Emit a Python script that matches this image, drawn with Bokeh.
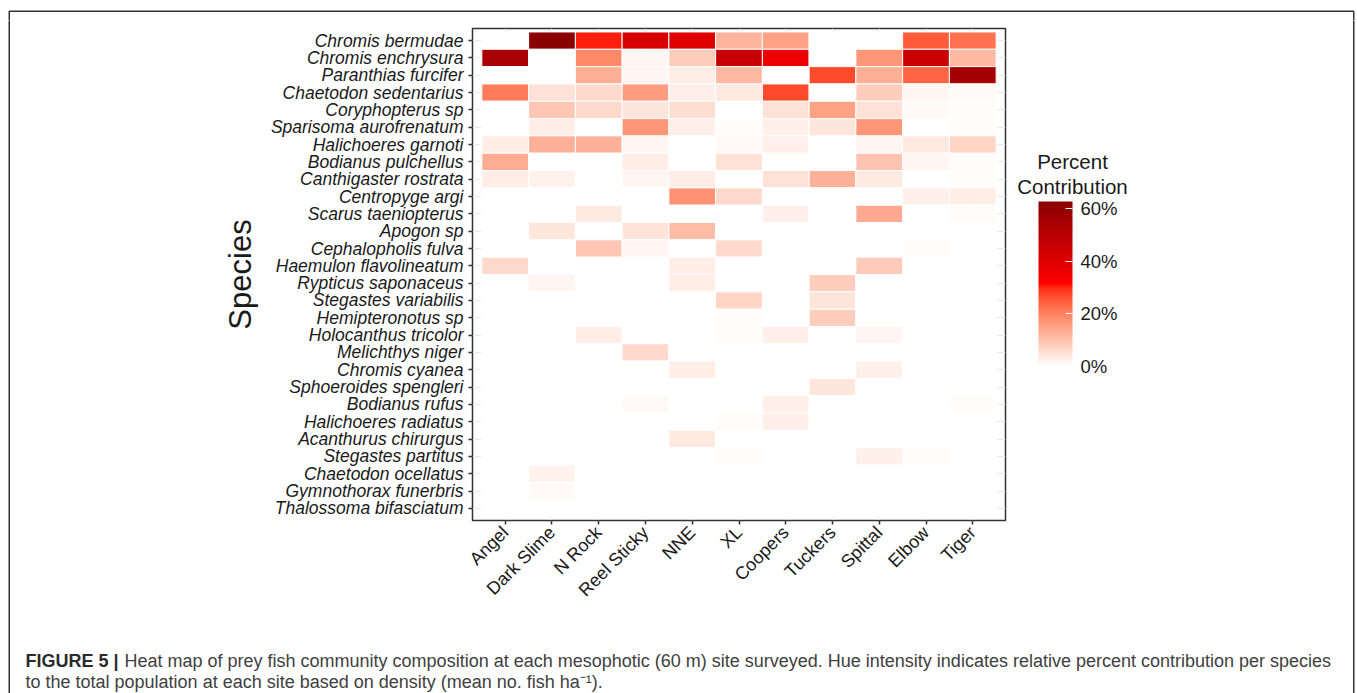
import math
import numpy as np
from bokeh.plotting import figure
from bokeh.layouts import column, row
from bokeh.models import (ColumnDataSource, LinearColorMapper, ColorBar, FixedTicker,
                          Label, FactorRange, Range1d, PrintfTickFormatter)
from bokeh.embed import file_html
from bokeh.resources import INLINE

# ---------------- data ----------------
sites = ["Angel", "Dark Slime", "N Rock", "Reel Sticky", "NNE", "XL",
         "Coopers", "Tuckers", "Spittal", "Elbow", "Tiger"]

species = ["Chromis bermudae", "Chromis enchrysura", "Paranthias furcifer",
           "Chaetodon sedentarius", "Coryphopterus sp", "Sparisoma aurofrenatum",
           "Halichoeres garnoti", "Bodianus pulchellus", "Canthigaster rostrata",
           "Centropyge argi", "Scarus taeniopterus", "Apogon sp",
           "Cephalopholis fulva", "Haemulon flavolineatum", "Rypticus saponaceus",
           "Stegastes variabilis", "Hemipteronotus sp", "Holocanthus tricolor",
           "Melichthys niger", "Chromis cyanea", "Sphoeroides spengleri",
           "Bodianus rufus", "Halichoeres radiatus", "Acanthurus chirurgus",
           "Stegastes partitus", "Chaetodon ocellatus", "Gymnothorax funerbris",
           "Thalossoma bifasciatum"]

# percent contribution of each species (in the order above) at each site
angel       = [0, 54.2, 0, 21.0, 0, 0, 3.1, 13.5, 3.0, 0, 0, 0, 0, 6.3, 0, 0, 0, 0, 0, 0, 0, 0, 0, 0, 0, 0, 0, 0]
dark_slime  = [62.6, 0, 0, 5.0, 9.4, 3.1, 12.8, 0, 2.3, 0, 0, 4.4, 0, 0, 1.9, 0, 0, 0, 0, 0, 0, 0, 0, 0, 0, 2.3, 1.0, 0]
n_rock      = [30.4, 18.8, 13.1, 6.3, 6.3, 0, 12.8, 0, 0, 0, 3.5, 0, 9.4, 0, 0, 0, 0, 3.1, 0, 0, 0, 0, 0, 0, 0, 0, 0, 0]
reel_sticky = [41.9, 1.5, 1.5, 16.0, 4.4, 16.9, 1.9, 3.0, 1.9, 0, 0, 4.8, 1.9, 0, 0, 0, 0, 0, 6.3, 0, 0, 1.0, 0, 0, 0, 0, 0, 0]
nne         = [39.8, 8.4, 3.0, 2.8, 5.6, 2.8, 0, 0, 3.0, 17.5, 0, 11.0, 0, 3.0, 3.0, 0, 0, 0, 0, 3.0, 0, 0, 0, 3.7, 0, 0, 0, 0]
xl          = [12.2, 46.0, 11.6, 3.8, 0, 0.7, 1.2, 5.0, 0, 6.3, 0, 0, 6.3, 0, 0, 6.9, 0.7, 0.7, 0, 0, 0, 0, 0.7, 0, 0.6, 0, 0, 0]
coopers     = [15.3, 36.0, 0, 26.9, 5.0, 2.5, 2.5, 0, 5.0, 0, 2.5, 0, 0, 0, 0, 0, 0, 2.5, 0, 0, 0, 2.8, 2.8, 0, 0, 0, 0, 0]
tuckers     = [0, 0, 26.9, 0, 15.3, 4.3, 0, 0, 12.8, 0, 0, 0, 0, 0, 8.1, 4.5, 8.1, 0, 0, 0, 4.3, 0, 0, 0, 0, 0, 0, 0]
spittal     = [0, 16.9, 13.1, 8.1, 5.0, 16.9, 1.6, 9.7, 3.5, 0, 13.8, 0, 0, 8.8, 0, 0, 0, 1.6, 0, 2.5, 0, 0, 0, 0, 2.5, 0, 0, 0]
elbow       = [25.0, 45.0, 23.8, 1.9, 1.0, 0, 3.7, 1.9, 0, 2.5, 0, 0, 0.6, 0, 0, 0, 0, 0, 0, 0, 0, 0, 0, 0, 0.7, 0, 0, 0]
tiger       = [22.2, 11.3, 55.7, 1.0, 0.7, 0.6, 6.9, 0.7, 0.7, 3.0, 0.5, 0, 0, 0, 0, 0, 0, 0, 0, 0, 0, 0.7, 0, 0, 0, 0, 0, 0]

site_columns = [angel, dark_slime, n_rock, reel_sticky, nne, xl,
                coopers, tuckers, spittal, elbow, tiger]

legend_ticks = [0, 20, 40, 60]
legend_title = ["Percent", "Contribution"]
caption_tag = "FIGURE 5 |"
caption_line1 = ("Heat map of prey fish community composition at each mesophotic (60 m) site surveyed. "
                 "Hue intensity indicates relative percent contribution per species")
caption_line2 = "to the total population at each site based on density (mean no. fish ha\u207b\u00b9)."

# ---------------- colour ramp (Lab interpolation white -> red -> darkred) ----------------
M = np.array([[0.4124, 0.3576, 0.1805], [0.2126, 0.7152, 0.0722], [0.0193, 0.1192, 0.9505]])
Minv = np.linalg.inv(M)
WP = np.array([0.95047, 1.0, 1.08883])


def _to_lin(c):
    return np.where(c <= 0.04045, c / 12.92, ((c + 0.055) / 1.055) ** 2.4)


def _from_lin(c):
    c = np.clip(c, 0, None)
    return np.where(c <= 0.0031308, 12.92 * c, 1.055 * np.power(c, 1 / 2.4) - 0.055)


def _f(t):
    return np.where(t > (6 / 29) ** 3, np.cbrt(t), t / (3 * (6 / 29) ** 2) + 4 / 29)


def _finv(t):
    return np.where(t > 6 / 29, t ** 3, 3 * (6 / 29) ** 2 * (t - 4 / 29))


def hex_to_lab(h):
    rgb = np.array([int(h[i:i + 2], 16) for i in (1, 3, 5)]) / 255.0
    xyz = (M @ _to_lin(rgb)) / WP
    fx, fy, fz = _f(xyz)
    return np.array([116 * fy - 16, 500 * (fx - fy), 200 * (fy - fz)])


def lab_to_hex(lab):
    L, a, b = lab
    fy = (L + 16) / 116
    fx = fy + a / 500
    fz = fy - b / 200
    xyz = _finv(np.array([fx, fy, fz])) * WP
    rgb = np.clip(_from_lin(Minv @ xyz), 0, 1)
    return "#%02x%02x%02x" % tuple(int(round(v * 255)) for v in rgb)


stops = [hex_to_lab("#FFFFFF"), hex_to_lab("#FF0000"), hex_to_lab("#8B0000")]
palette = []
N = 256
for i in range(N):
    t = i / (N - 1)
    if t <= 0.5:
        u = t / 0.5
        lab = stops[0] * (1 - u) + stops[1] * u
    else:
        u = (t - 0.5) / 0.5
        lab = stops[1] * (1 - u) + stops[2] * u
    palette.append(lab_to_hex(lab))

# ---------------- table ----------------
xs, ys, vals = [], [], []
for s, col in zip(sites, site_columns):
    for sp, v in zip(species, col):
        xs.append(s)
        ys.append(sp)
        vals.append(v)
src = ColumnDataSource(dict(site=xs, species=ys, val=vals))
vmax = max(vals)
mapper = LinearColorMapper(palette=palette, low=0, high=vmax)

FONT = "Liberation Sans"
LINE = "#333333"
W, H = 1357, 693
TOP_H = 20            # top strip: page y 0..20
MID_H = 610           # heat map row: page y 20..630
CAP_H = H - TOP_H - MID_H   # caption: page y 630..693
LEFT_W = 20           # left strip: page x 0..20
RIGHT_X = 1340        # right strip: page x 1340..1357
MAIN_W = 990          # heat map: page x 20..1010
LEG_X = LEFT_W + MAIN_W
FRAME_L, FRAME_R, FRAME_T, FRAME_B = 472, 1005, 28, 520
BOX_L, BOX_R, BOX_T = 8.75, 1353.25, 10.75


def blank(width, height, x0, x1, y0, y1):
    f = figure(width=width, height=height, x_range=Range1d(x0, x1), y_range=Range1d(y1, y0),
               output_backend="svg", toolbar_location=None, min_border=0,
               x_axis_location=None, y_axis_location=None)
    f.frame_align = False
    f.grid.visible = False
    f.outline_line_color = None
    f.background_fill_color = "white"
    f.border_fill_color = "white"
    return f


# outer figure box: top, left and right strips
top = blank(W, TOP_H, 0, W, 0, TOP_H)
top.line(x=[BOX_L, BOX_L, BOX_R, BOX_R], y=[TOP_H + 1, BOX_T, BOX_T, TOP_H + 1],
         line_color=LINE, line_width=1.5)

left = blank(LEFT_W, H - TOP_H, 0, LEFT_W, TOP_H, H)
left.line(x=[BOX_L, BOX_L], y=[TOP_H - 1, H + 1], line_color=LINE, line_width=1.5)

right = blank(W - RIGHT_X, H - TOP_H, RIGHT_X, W, TOP_H, H)
right.line(x=[BOX_R, BOX_R], y=[TOP_H - 1, H + 1], line_color=LINE, line_width=1.5)

# ---------------- heat map ----------------
p = figure(width=MAIN_W, height=MID_H,
           x_range=FactorRange(*sites, range_padding=0.2, range_padding_units="absolute"),
           y_range=FactorRange(*species[::-1], range_padding=0.2, range_padding_units="absolute"),
           output_backend="svg", toolbar_location=None,
           min_border_left=FRAME_L - LEFT_W, min_border_right=LEG_X - FRAME_R,
           min_border_top=FRAME_T - TOP_H, min_border_bottom=TOP_H + MID_H - FRAME_B)
p.frame_align = False
p.rect(x="site", y="species", width=1, height=1, source=src,
       fill_color={"field": "val", "transform": mapper},
       line_color="white", line_width=1)
p.outline_line_color = LINE
p.outline_line_width = 1.5
p.xgrid.grid_line_color = "#EBEBEB"
p.ygrid.grid_line_color = "#EBEBEB"
p.background_fill_color = "white"
p.border_fill_color = "white"

for ax in (p.xaxis[0], p.yaxis[0]):
    ax.axis_line_color = None
    ax.major_tick_line_color = LINE
    ax.major_tick_line_width = 1.5
    ax.major_tick_out = 4
    ax.major_tick_in = 0
    ax.major_label_text_font = FONT
    ax.major_label_text_color = "#1a1a1a"
    ax.major_label_standoff = 5

p.xaxis.major_label_text_font_size = "18px"
p.yaxis.major_label_text_font_size = "17.5px"
p.yaxis.major_label_text_font_style = "italic"
p.yaxis.axis_label = "Species"
p.yaxis.axis_label_text_font = FONT
p.yaxis.axis_label_text_font_size = "31px"
p.yaxis.axis_label_text_font_style = "normal"
p.yaxis.axis_label_text_color = "#1a1a1a"
p.yaxis.axis_label_standoff = 10
p.xaxis.major_label_orientation = math.pi / 4

# ---------------- legend panel ----------------
leg = blank(RIGHT_X - LEG_X, MID_H, LEG_X, RIGHT_X, TOP_H, TOP_H + MID_H)
cb = ColorBar(color_mapper=mapper, ticker=FixedTicker(ticks=legend_ticks),
              formatter=PrintfTickFormatter(format="%d%%"),
              width=34, height=165, padding=0, location=(1038 - LEG_X, TOP_H + MID_H - 366),
              major_label_text_font=FONT, major_label_text_font_size="18.5px",
              major_label_text_color="#1a1a1a", label_standoff=8,
              major_tick_line_color="white", major_tick_in=7, major_tick_out=0,
              bar_line_color=None, border_line_color=None,
              background_fill_color=None)
leg.add_layout(cb, "center")

for txt, yy in zip(legend_title, (161, 186)):
    leg.add_layout(Label(x=1072, y=yy, text=txt, text_align="center", text_baseline="alphabetic",
                         text_font=FONT, text_font_size="20.5px", text_color="#1a1a1a"))

# ---------------- caption panel ----------------
y_cap = TOP_H + MID_H
cap = blank(RIGHT_X - LEFT_W, CAP_H, LEFT_W, RIGHT_X, y_cap, H)
cap.add_layout(Label(x=25, y=660, text=caption_tag, text_font=FONT, text_font_size="18px",
                     text_font_style="bold", text_color="#2b2b2b", text_baseline="alphabetic"))
cap.add_layout(Label(x=124, y=660, text=caption_line1, text_font=FONT, text_font_size="18px",
                     text_color="#404040", text_baseline="alphabetic"))
cap.add_layout(Label(x=25, y=681, text=caption_line2, text_font=FONT, text_font_size="18px",
                     text_color="#404040", text_baseline="alphabetic"))

middle = column(row(p, leg, spacing=0), cap, spacing=0)
layout = column(top, row(left, middle, right, spacing=0), spacing=0)
open("out.html", "w").write(file_html(layout, INLINE))
